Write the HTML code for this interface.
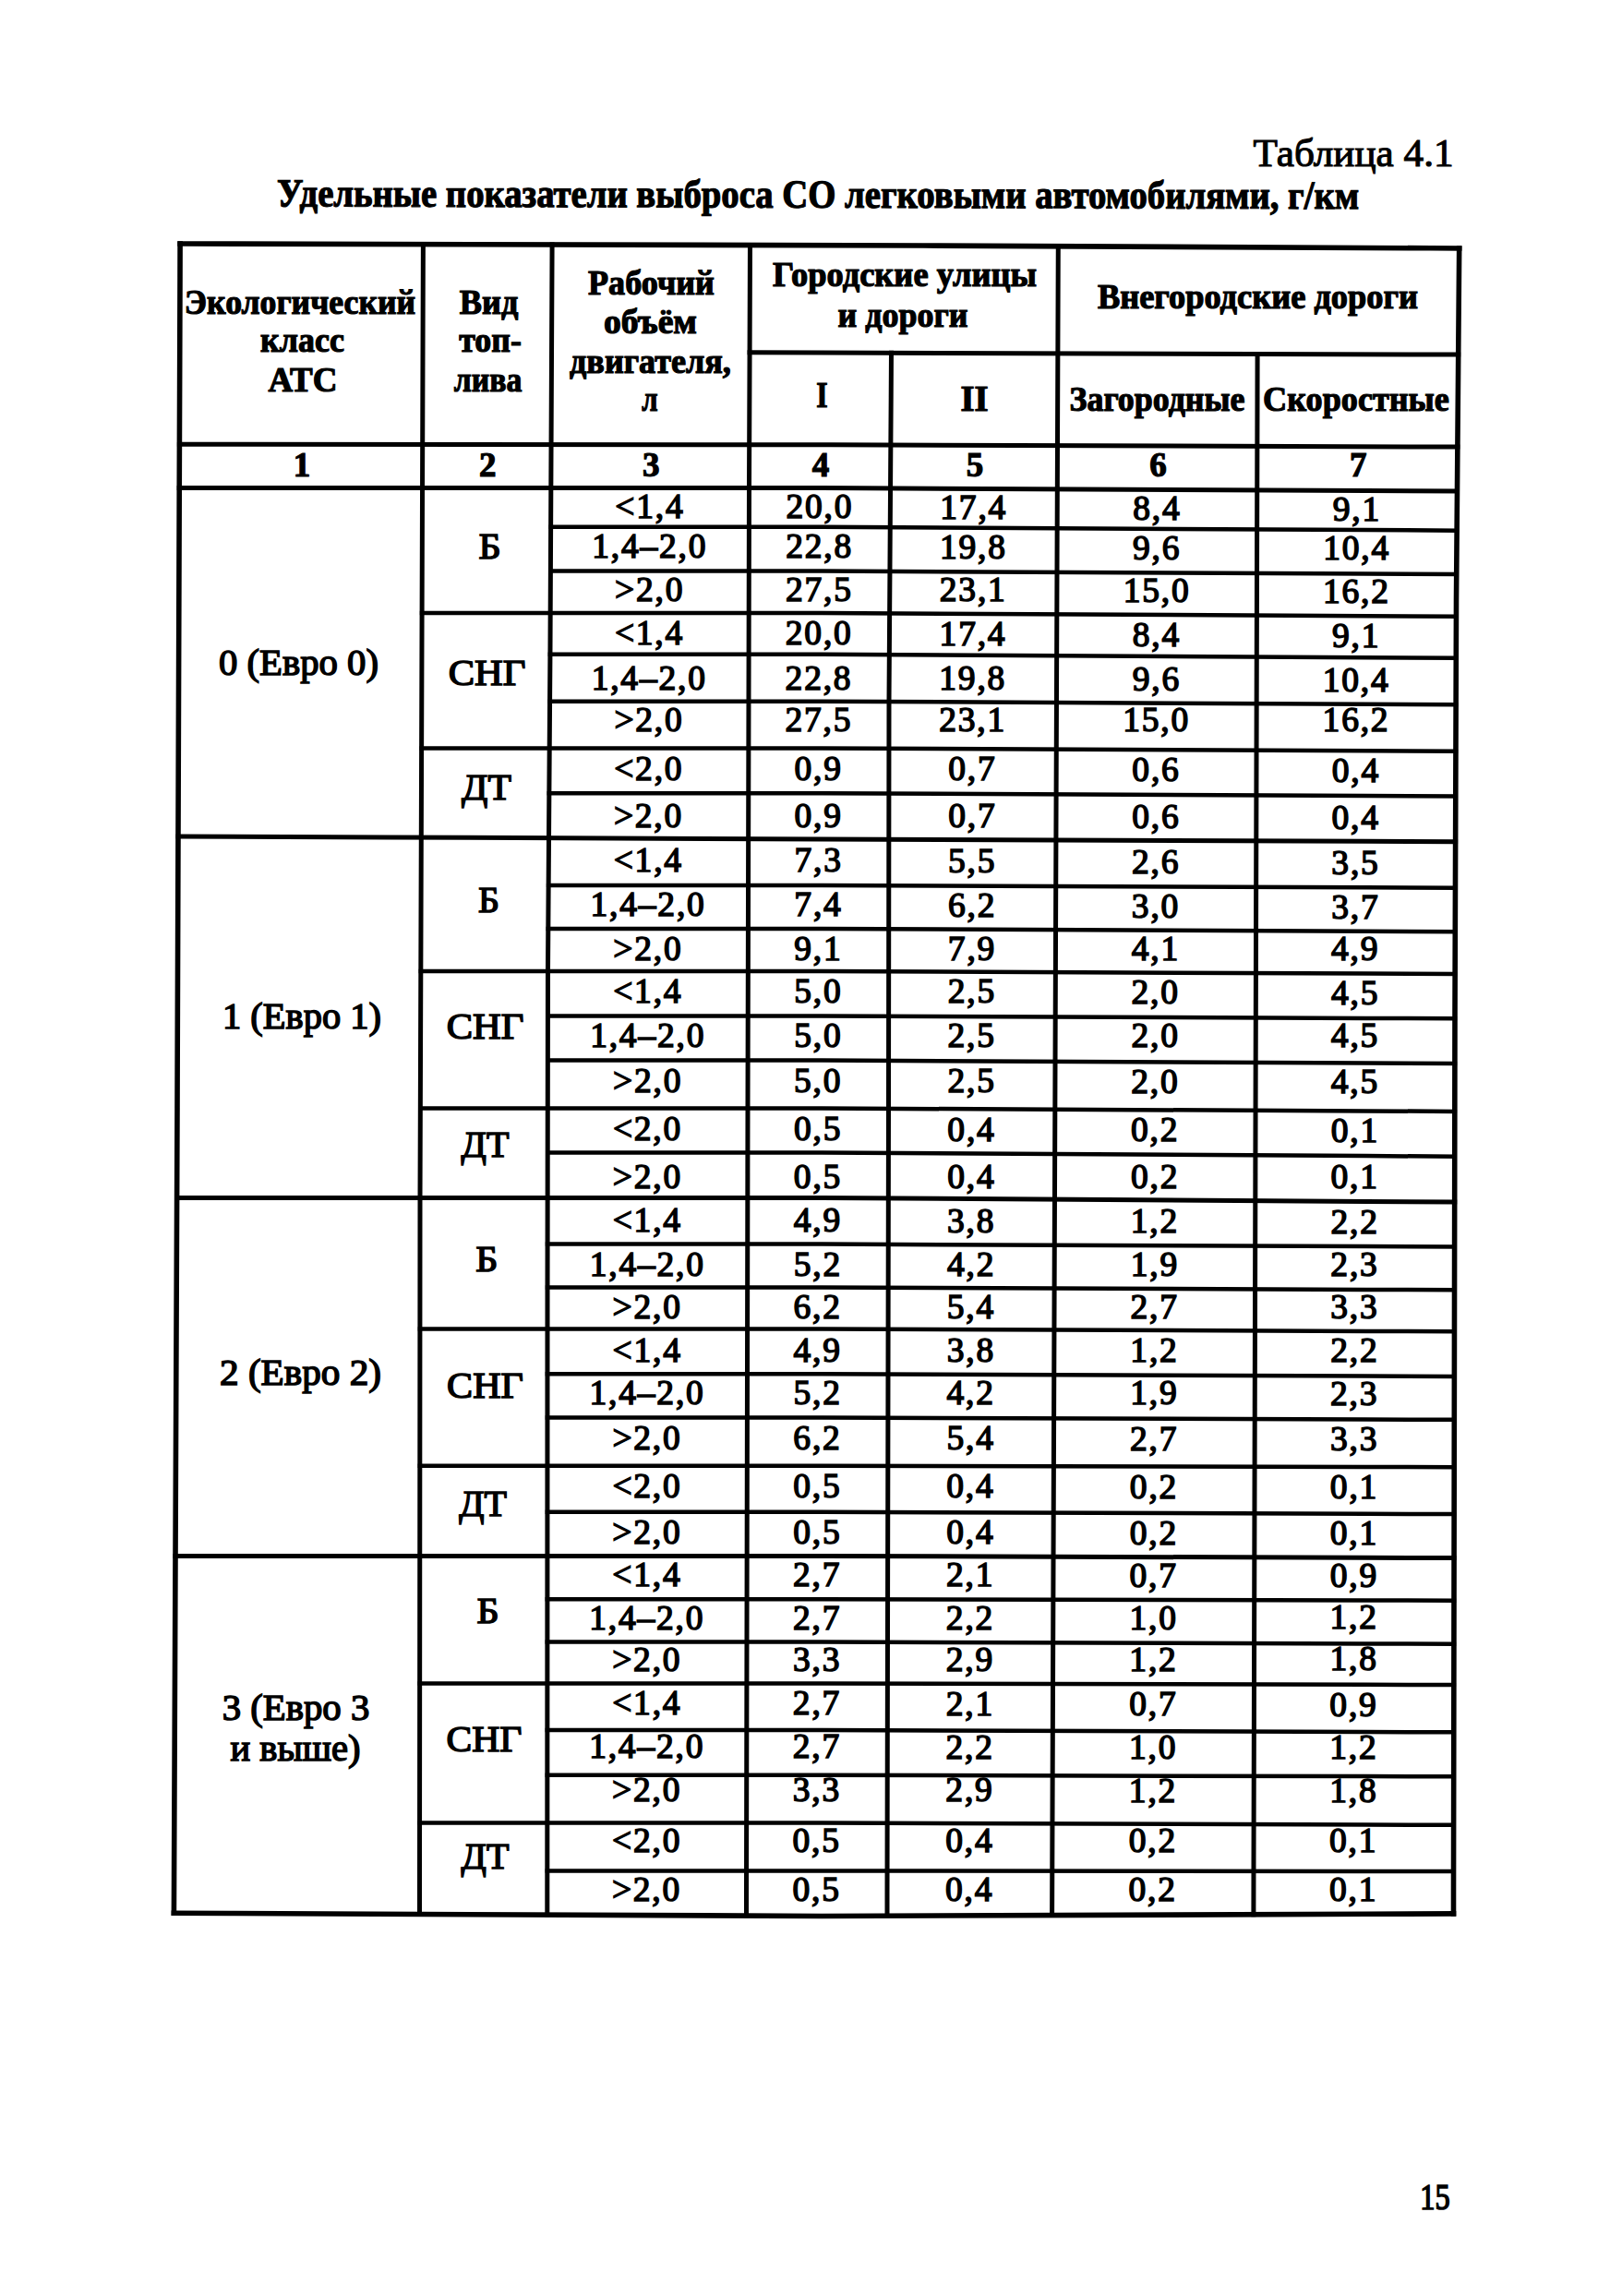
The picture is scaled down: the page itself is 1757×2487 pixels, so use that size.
<!DOCTYPE html>
<html><head><meta charset="utf-8"><title>Таблица 4.1</title>
<style>
html,body{margin:0;padding:0;background:#fff;}
body{width:1757px;height:2487px;overflow:hidden;position:relative;}
svg{position:absolute;left:0;top:0;}
text{font-family:"Liberation Serif",serif;fill:#000;stroke:#000;}
</style></head><body>
<svg width="1757" height="2487" viewBox="0 0 1757 2487">
<g class="ln" fill="none" stroke="#000" stroke-linejoin="miter">
<polyline points="192.3,264.0 200.0,264.0 1000.0,266.0 1550.0,268.8 1583.5,269.0" stroke-width="5.6"/>
<polyline points="185.6,2072.2 250.0,2072.5 890.0,2075.5 1480.0,2073.3 1577.3,2072.9" stroke-width="5.6"/>
<polyline points="191.9,481.3 200.0,481.3 900.0,481.8 1540.0,484.0 1581.4,484.1" stroke-width="5.0"/>
<polyline points="191.7,528.5 600.0,528.5 890.0,528.5 1480.0,531.6 1581.0,532.1" stroke-width="5.0"/>
<polyline points="809.6,381.8 890.0,382.0 1540.0,384.0 1582.2,384.1" stroke-width="5.0"/>
<polyline points="594.4,570.7 600.0,570.7 890.0,570.7 1480.0,574.1 1580.4,574.7" stroke-width="4.5"/>
<polyline points="594.1,618.5 600.0,618.5 890.0,618.5 1480.0,621.6 1580.0,622.1" stroke-width="4.5"/>
<polyline points="454.8,664.1 600.0,664.1 890.0,664.1 1480.0,667.2 1579.7,667.7" stroke-width="4.5"/>
<polyline points="593.7,708.8 600.0,708.8 890.0,708.8 1480.0,712.2 1579.5,712.8" stroke-width="4.5"/>
<polyline points="593.3,759.7 600.0,759.7 890.0,759.7 1480.0,762.8 1579.4,763.3" stroke-width="4.5"/>
<polyline points="454.4,810.5 600.0,810.5 890.0,810.5 1480.0,813.3 1579.2,813.8" stroke-width="4.5"/>
<polyline points="592.6,859.2 600.0,859.2 890.0,859.2 1480.0,862.0 1579.0,862.5" stroke-width="4.5"/>
<polyline points="190.5,906.1 420.0,907.0 890.0,908.9 1480.0,911.3 1579.1,911.7" stroke-width="5.0"/>
<polyline points="591.9,959.1 600.0,959.1 890.0,959.1 1480.0,961.3 1578.7,961.7" stroke-width="4.5"/>
<polyline points="591.6,1006.0 600.0,1006.0 890.0,1006.0 1480.0,1008.7 1578.6,1009.2" stroke-width="4.5"/>
<polyline points="453.6,1052.0 600.0,1052.0 890.0,1052.0 1480.0,1054.6 1578.4,1055.0" stroke-width="4.5"/>
<polyline points="591.2,1100.4 600.0,1100.4 890.0,1100.4 1480.0,1102.9 1578.2,1103.3" stroke-width="4.5"/>
<polyline points="591.1,1148.5 600.0,1148.5 890.0,1148.5 1480.0,1151.6 1578.2,1152.1" stroke-width="4.5"/>
<polyline points="453.1,1200.5 600.0,1200.5 890.0,1200.5 1480.0,1203.4 1578.1,1203.9" stroke-width="4.5"/>
<polyline points="591.0,1248.6 600.0,1248.6 890.0,1248.6 1480.0,1252.1 1578.0,1252.7" stroke-width="4.5"/>
<polyline points="189.1,1297.5 600.0,1297.5 890.0,1297.5 1480.0,1301.4 1578.2,1302.0" stroke-width="5.0"/>
<polyline points="590.8,1347.6 600.0,1347.6 890.0,1347.6 1480.0,1350.1 1577.9,1350.5" stroke-width="4.5"/>
<polyline points="590.8,1394.5 600.0,1394.5 890.0,1394.5 1480.0,1396.9 1577.8,1397.3" stroke-width="4.5"/>
<polyline points="452.7,1439.5 600.0,1439.5 890.0,1439.5 1480.0,1441.9 1577.7,1442.3" stroke-width="4.5"/>
<polyline points="590.7,1488.2 600.0,1488.2 890.0,1488.2 1480.0,1490.6 1577.6,1491.0" stroke-width="4.5"/>
<polyline points="590.7,1535.6 600.0,1535.6 890.0,1535.6 1480.0,1537.5 1577.6,1537.8" stroke-width="4.5"/>
<polyline points="452.6,1587.7 600.0,1587.7 890.0,1587.7 1480.0,1589.0 1577.5,1589.2" stroke-width="4.5"/>
<polyline points="590.7,1637.7 600.0,1637.7 890.0,1637.7 1480.0,1639.8 1577.4,1640.1" stroke-width="4.5"/>
<polyline points="187.5,1685.4 600.0,1685.4 890.0,1685.4 1480.0,1687.3 1577.6,1687.6" stroke-width="5.0"/>
<polyline points="590.6,1732.3 600.0,1732.3 890.0,1732.3 1480.0,1733.5 1577.2,1733.7" stroke-width="4.5"/>
<polyline points="590.6,1778.5 600.0,1778.5 890.0,1778.5 1480.0,1780.4 1577.2,1780.7" stroke-width="4.5"/>
<polyline points="452.4,1823.5 600.0,1823.5 890.0,1823.5 1480.0,1824.8 1577.1,1825.0" stroke-width="4.5"/>
<polyline points="590.6,1874.1 600.0,1874.1 890.0,1874.1 1480.0,1876.0 1577.0,1876.3" stroke-width="4.5"/>
<polyline points="590.6,1922.8 600.0,1922.8 890.0,1922.8 1480.0,1924.1 1576.9,1924.3" stroke-width="4.5"/>
<polyline points="452.3,1974.6 600.0,1974.6 890.0,1974.6 1480.0,1976.5 1576.9,1976.8" stroke-width="4.5"/>
<polyline points="590.6,2026.4 600.0,2026.4 890.0,2026.4 1480.0,2027.0 1576.8,2027.1" stroke-width="4.5"/>
<polyline points="195.1,261.2 195.0,300.0 192.0,1200.0 188.5,2050.0 188.4,2075.0" stroke-width="5.6"/>
<polyline points="1580.7,266.2 1579.6,400.0 1577.5,650.0 1576.0,1100.0 1574.5,2050.0 1574.5,2075.7" stroke-width="5.6"/>
<polyline points="458.4,262.1 457.8,450.0 455.0,1300.0 454.5,2050.0 454.5,2076.0" stroke-width="5.0"/>
<polyline points="598.1,262.5 597.2,450.0 596.0,700.0 593.5,1050.0 593.0,1400.0 592.8,2050.0 592.8,2076.6" stroke-width="5.0"/>
<polyline points="812.5,263.0 812.0,400.0 811.5,530.0 810.0,1200.0 808.5,2050.0 808.5,2077.6" stroke-width="5.0"/>
<polyline points="1146.3,264.2 1145.8,400.0 1139.8,2020.0 1139.6,2077.1" stroke-width="5.0"/>
<polyline points="965.5,379.7 965.2,430.0 963.0,760.0 962.5,1200.0 961.0,2050.0 961.0,2077.7" stroke-width="5.0"/>
<polyline points="1362.1,381.0 1362.0,430.0 1358.0,2020.0 1357.9,2076.3" stroke-width="5.0"/>
</g>
<g class="tx">
<text id="tab" x="1466.0" y="180.0" font-size="42" stroke-width="1.1" text-anchor="middle" textLength="217.2" lengthAdjust="spacingAndGlyphs">Таблица 4.1</text>
<text id="ttl" x="886.0" y="224.8" font-size="43" font-weight="bold" stroke-width="1.2" transform="rotate(0.130 886.0 224.8)" text-anchor="middle" textLength="1172.2" lengthAdjust="spacingAndGlyphs">Удельные показатели выброса СО легковыми автомобилями, г/км</text>
<text id="pg" x="1554.5" y="2393.0" font-size="39" stroke-width="1.6" text-anchor="middle" textLength="32.4" lengthAdjust="spacingAndGlyphs">15</text>
<text id="h1a" x="325.0" y="340.0" font-size="38" font-weight="bold" stroke-width="1.2" text-anchor="middle" textLength="250.3" lengthAdjust="spacingAndGlyphs">Экологический</text>
<text id="h1b" x="327.5" y="381.3" font-size="38" font-weight="bold" stroke-width="1.2" text-anchor="middle" textLength="90.9" lengthAdjust="spacingAndGlyphs">класс</text>
<text id="h1c" x="328.0" y="424.0" font-size="38" font-weight="bold" stroke-width="1.2" text-anchor="middle" textLength="74.8" lengthAdjust="spacingAndGlyphs">АТС</text>
<text id="h2a" x="529.5" y="340.0" font-size="38" font-weight="bold" stroke-width="1.2" text-anchor="middle" textLength="63.5" lengthAdjust="spacingAndGlyphs">Вид</text>
<text id="h2b" x="531.0" y="381.3" font-size="38" font-weight="bold" stroke-width="1.2" text-anchor="middle" textLength="67.7" lengthAdjust="spacingAndGlyphs">топ-</text>
<text id="h2c" x="528.5" y="424.0" font-size="38" font-weight="bold" stroke-width="1.2" text-anchor="middle" textLength="73.7" lengthAdjust="spacingAndGlyphs">лива</text>
<text id="h3a" x="705.5" y="318.8" font-size="38" font-weight="bold" stroke-width="1.2" text-anchor="middle" textLength="136.9" lengthAdjust="spacingAndGlyphs">Рабочий</text>
<text id="h3b" x="704.5" y="361.0" font-size="38" font-weight="bold" stroke-width="1.2" text-anchor="middle" textLength="101.0" lengthAdjust="spacingAndGlyphs">объём</text>
<text id="h3c" x="704.5" y="403.9" font-size="38" font-weight="bold" stroke-width="1.2" text-anchor="middle" textLength="174.8" lengthAdjust="spacingAndGlyphs">двигателя,</text>
<text id="h3d" x="704.0" y="445.3" font-size="38" font-weight="bold" stroke-width="1.2" text-anchor="middle" textLength="17.3" lengthAdjust="spacingAndGlyphs">л</text>
<text id="h4a" x="980.0" y="310.4" font-size="38" font-weight="bold" stroke-width="1.2" text-anchor="middle" textLength="285.9" lengthAdjust="spacingAndGlyphs">Городские улицы</text>
<text id="h4b" x="978.0" y="353.6" font-size="38" font-weight="bold" stroke-width="1.2" text-anchor="middle" textLength="140.9" lengthAdjust="spacingAndGlyphs">и дороги</text>
<text id="h5" x="1362.5" y="334.4" font-size="38" font-weight="bold" stroke-width="1.2" text-anchor="middle" textLength="347.2" lengthAdjust="spacingAndGlyphs">Внегородские дороги</text>
<text id="hI" x="890.5" y="441.0" font-size="40" font-weight="bold" stroke-width="1.2" text-anchor="middle" textLength="12.4" lengthAdjust="spacingAndGlyphs">I</text>
<text id="hII" x="1055.5" y="444.8" font-size="40" font-weight="bold" stroke-width="1.2" text-anchor="middle" textLength="30.1" lengthAdjust="spacingAndGlyphs">II</text>
<text id="h6" x="1253.5" y="445.4" font-size="38" font-weight="bold" stroke-width="1.2" text-anchor="middle" textLength="190.0" lengthAdjust="spacingAndGlyphs">Загородные</text>
<text id="h7" x="1469.0" y="445.4" font-size="38" font-weight="bold" stroke-width="1.2" text-anchor="middle" textLength="201.8" lengthAdjust="spacingAndGlyphs">Скоростные</text>
<text id="n0" x="327.0" y="515.5" font-size="37" font-weight="bold" stroke-width="1.2" text-anchor="middle">1</text>
<text id="n1" x="528.3" y="515.5" font-size="37" font-weight="bold" stroke-width="1.2" text-anchor="middle">2</text>
<text id="n2" x="705.3" y="515.5" font-size="37" font-weight="bold" stroke-width="1.2" text-anchor="middle">3</text>
<text id="n3" x="889.1" y="515.5" font-size="37" font-weight="bold" stroke-width="1.2" text-anchor="middle">4</text>
<text id="n4" x="1056.1" y="515.5" font-size="37" font-weight="bold" stroke-width="1.2" text-anchor="middle">5</text>
<text id="n5" x="1254.6" y="515.5" font-size="37" font-weight="bold" stroke-width="1.2" text-anchor="middle">6</text>
<text id="n6" x="1471.3" y="515.5" font-size="37" font-weight="bold" stroke-width="1.2" text-anchor="middle">7</text>
<text id="d0_0" x="703.9" y="561.2" font-size="37.5" stroke-width="1.5" letter-spacing="1.8" text-anchor="middle">&lt;1,4</text>
<text id="d0_1" x="887.8" y="561.2" font-size="37.5" stroke-width="1.5" letter-spacing="1.8" text-anchor="middle">20,0</text>
<text id="d0_2" x="1054.7" y="562.1" font-size="37.5" stroke-width="1.5" letter-spacing="1.8" text-anchor="middle">17,4</text>
<text id="d0_3" x="1253.3" y="563.1" font-size="37.5" stroke-width="1.5" letter-spacing="1.8" text-anchor="middle">8,4</text>
<text id="d0_4" x="1469.8" y="564.2" font-size="37.5" stroke-width="1.5" letter-spacing="1.8" text-anchor="middle">9,1</text>
<text id="d1_0" x="703.8" y="604.3" font-size="37.5" stroke-width="1.5" letter-spacing="1.8" text-anchor="middle">1,4–2,0</text>
<text id="d1_1" x="887.6" y="604.3" font-size="37.5" stroke-width="1.5" letter-spacing="1.8" text-anchor="middle">22,8</text>
<text id="d1_2" x="1054.4" y="604.8" font-size="37.5" stroke-width="1.5" letter-spacing="1.8" text-anchor="middle">19,8</text>
<text id="d1_3" x="1253.2" y="605.5" font-size="37.5" stroke-width="1.5" letter-spacing="1.8" text-anchor="middle">9,6</text>
<text id="d1_4" x="1469.6" y="606.2" font-size="37.5" stroke-width="1.5" letter-spacing="1.8" text-anchor="middle">10,4</text>
<text id="d2_0" x="703.6" y="650.6" font-size="37.5" stroke-width="1.5" letter-spacing="1.8" text-anchor="middle">&gt;2,0</text>
<text id="d2_1" x="887.4" y="650.6" font-size="37.5" stroke-width="1.5" letter-spacing="1.8" text-anchor="middle">27,5</text>
<text id="d2_2" x="1054.2" y="651.3" font-size="37.5" stroke-width="1.5" letter-spacing="1.8" text-anchor="middle">23,1</text>
<text id="d2_3" x="1253.1" y="652.1" font-size="37.5" stroke-width="1.5" letter-spacing="1.8" text-anchor="middle">15,0</text>
<text id="d2_4" x="1469.4" y="653.0" font-size="37.5" stroke-width="1.5" letter-spacing="1.8" text-anchor="middle">16,2</text>
<text id="d3_0" x="703.5" y="698.0" font-size="37.5" stroke-width="1.5" letter-spacing="1.8" text-anchor="middle">&lt;1,4</text>
<text id="d3_1" x="887.2" y="698.0" font-size="37.5" stroke-width="1.5" letter-spacing="1.8" text-anchor="middle">20,0</text>
<text id="d3_2" x="1054.0" y="698.7" font-size="37.5" stroke-width="1.5" letter-spacing="1.8" text-anchor="middle">17,4</text>
<text id="d3_3" x="1252.9" y="699.5" font-size="37.5" stroke-width="1.5" letter-spacing="1.8" text-anchor="middle">8,4</text>
<text id="d3_4" x="1469.2" y="700.5" font-size="37.5" stroke-width="1.5" letter-spacing="1.8" text-anchor="middle">9,1</text>
<text id="d4_0" x="703.2" y="746.7" font-size="37.5" stroke-width="1.5" letter-spacing="1.8" text-anchor="middle">1,4–2,0</text>
<text id="d4_1" x="887.0" y="746.7" font-size="37.5" stroke-width="1.5" letter-spacing="1.8" text-anchor="middle">22,8</text>
<text id="d4_2" x="1053.7" y="747.4" font-size="37.5" stroke-width="1.5" letter-spacing="1.8" text-anchor="middle">19,8</text>
<text id="d4_3" x="1252.8" y="748.2" font-size="37.5" stroke-width="1.5" letter-spacing="1.8" text-anchor="middle">9,6</text>
<text id="d4_4" x="1469.1" y="749.2" font-size="37.5" stroke-width="1.5" letter-spacing="1.8" text-anchor="middle">10,4</text>
<text id="d5_0" x="703.0" y="791.8" font-size="37.5" stroke-width="1.5" letter-spacing="1.8" text-anchor="middle">&gt;2,0</text>
<text id="d5_1" x="886.8" y="791.8" font-size="37.5" stroke-width="1.5" letter-spacing="1.8" text-anchor="middle">27,5</text>
<text id="d5_2" x="1053.6" y="791.9" font-size="37.5" stroke-width="1.5" letter-spacing="1.8" text-anchor="middle">23,1</text>
<text id="d5_3" x="1252.6" y="792.1" font-size="37.5" stroke-width="1.5" letter-spacing="1.8" text-anchor="middle">15,0</text>
<text id="d5_4" x="1469.0" y="792.3" font-size="37.5" stroke-width="1.5" letter-spacing="1.8" text-anchor="middle">16,2</text>
<text id="d6_0" x="702.8" y="844.7" font-size="37.5" stroke-width="1.5" letter-spacing="1.8" text-anchor="middle">&lt;2,0</text>
<text id="d6_1" x="886.7" y="844.7" font-size="37.5" stroke-width="1.5" letter-spacing="1.8" text-anchor="middle">0,9</text>
<text id="d6_2" x="1053.4" y="845.2" font-size="37.5" stroke-width="1.5" letter-spacing="1.8" text-anchor="middle">0,7</text>
<text id="d6_3" x="1252.5" y="845.9" font-size="37.5" stroke-width="1.5" letter-spacing="1.8" text-anchor="middle">0,6</text>
<text id="d6_4" x="1468.8" y="846.6" font-size="37.5" stroke-width="1.5" letter-spacing="1.8" text-anchor="middle">0,4</text>
<text id="d7_0" x="702.5" y="895.9" font-size="37.5" stroke-width="1.5" letter-spacing="1.8" text-anchor="middle">&gt;2,0</text>
<text id="d7_1" x="886.7" y="895.9" font-size="37.5" stroke-width="1.5" letter-spacing="1.8" text-anchor="middle">0,9</text>
<text id="d7_2" x="1053.3" y="896.4" font-size="37.5" stroke-width="1.5" letter-spacing="1.8" text-anchor="middle">0,7</text>
<text id="d7_3" x="1252.3" y="897.1" font-size="37.5" stroke-width="1.5" letter-spacing="1.8" text-anchor="middle">0,6</text>
<text id="d7_4" x="1468.6" y="897.8" font-size="37.5" stroke-width="1.5" letter-spacing="1.8" text-anchor="middle">0,4</text>
<text id="d8_0" x="702.3" y="944.0" font-size="37.5" stroke-width="1.5" letter-spacing="1.8" text-anchor="middle">&lt;1,4</text>
<text id="d8_1" x="886.6" y="944.0" font-size="37.5" stroke-width="1.5" letter-spacing="1.8" text-anchor="middle">7,3</text>
<text id="d8_2" x="1053.2" y="944.7" font-size="37.5" stroke-width="1.5" letter-spacing="1.8" text-anchor="middle">5,5</text>
<text id="d8_3" x="1252.1" y="945.5" font-size="37.5" stroke-width="1.5" letter-spacing="1.8" text-anchor="middle">2,6</text>
<text id="d8_4" x="1468.5" y="946.5" font-size="37.5" stroke-width="1.5" letter-spacing="1.8" text-anchor="middle">3,5</text>
<text id="d9_0" x="702.1" y="992.1" font-size="37.5" stroke-width="1.5" letter-spacing="1.8" text-anchor="middle">1,4–2,0</text>
<text id="d9_1" x="886.5" y="992.1" font-size="37.5" stroke-width="1.5" letter-spacing="1.8" text-anchor="middle">7,4</text>
<text id="d9_2" x="1053.1" y="992.8" font-size="37.5" stroke-width="1.5" letter-spacing="1.8" text-anchor="middle">6,2</text>
<text id="d9_3" x="1252.0" y="993.6" font-size="37.5" stroke-width="1.5" letter-spacing="1.8" text-anchor="middle">3,0</text>
<text id="d9_4" x="1468.4" y="994.5" font-size="37.5" stroke-width="1.5" letter-spacing="1.8" text-anchor="middle">3,7</text>
<text id="d10_0" x="701.9" y="1039.6" font-size="37.5" stroke-width="1.5" letter-spacing="1.8" text-anchor="middle">&gt;2,0</text>
<text id="d10_1" x="886.4" y="1039.6" font-size="37.5" stroke-width="1.5" letter-spacing="1.8" text-anchor="middle">9,1</text>
<text id="d10_2" x="1053.0" y="1039.8" font-size="37.5" stroke-width="1.5" letter-spacing="1.8" text-anchor="middle">7,9</text>
<text id="d10_3" x="1251.8" y="1040.0" font-size="37.5" stroke-width="1.5" letter-spacing="1.8" text-anchor="middle">4,1</text>
<text id="d10_4" x="1468.2" y="1040.2" font-size="37.5" stroke-width="1.5" letter-spacing="1.8" text-anchor="middle">4,9</text>
<text id="d11_0" x="701.8" y="1085.6" font-size="37.5" stroke-width="1.5" letter-spacing="1.8" text-anchor="middle">&lt;1,4</text>
<text id="d11_1" x="886.3" y="1085.6" font-size="37.5" stroke-width="1.5" letter-spacing="1.8" text-anchor="middle">5,0</text>
<text id="d11_2" x="1052.8" y="1086.3" font-size="37.5" stroke-width="1.5" letter-spacing="1.8" text-anchor="middle">2,5</text>
<text id="d11_3" x="1251.7" y="1087.1" font-size="37.5" stroke-width="1.5" letter-spacing="1.8" text-anchor="middle">2,0</text>
<text id="d11_4" x="1468.1" y="1088.0" font-size="37.5" stroke-width="1.5" letter-spacing="1.8" text-anchor="middle">4,5</text>
<text id="d12_0" x="701.7" y="1134.3" font-size="37.5" stroke-width="1.5" letter-spacing="1.8" text-anchor="middle">1,4–2,0</text>
<text id="d12_1" x="886.3" y="1134.3" font-size="37.5" stroke-width="1.5" letter-spacing="1.8" text-anchor="middle">5,0</text>
<text id="d12_2" x="1052.7" y="1134.3" font-size="37.5" stroke-width="1.5" letter-spacing="1.8" text-anchor="middle">2,5</text>
<text id="d12_3" x="1251.6" y="1134.3" font-size="37.5" stroke-width="1.5" letter-spacing="1.8" text-anchor="middle">2,0</text>
<text id="d12_4" x="1468.0" y="1134.3" font-size="37.5" stroke-width="1.5" letter-spacing="1.8" text-anchor="middle">4,5</text>
<text id="d13_0" x="701.6" y="1183.0" font-size="37.5" stroke-width="1.5" letter-spacing="1.8" text-anchor="middle">&gt;2,0</text>
<text id="d13_1" x="886.2" y="1183.0" font-size="37.5" stroke-width="1.5" letter-spacing="1.8" text-anchor="middle">5,0</text>
<text id="d13_2" x="1052.6" y="1183.4" font-size="37.5" stroke-width="1.5" letter-spacing="1.8" text-anchor="middle">2,5</text>
<text id="d13_3" x="1251.4" y="1183.8" font-size="37.5" stroke-width="1.5" letter-spacing="1.8" text-anchor="middle">2,0</text>
<text id="d13_4" x="1467.9" y="1184.3" font-size="37.5" stroke-width="1.5" letter-spacing="1.8" text-anchor="middle">4,5</text>
<text id="d14_0" x="701.5" y="1235.4" font-size="37.5" stroke-width="1.5" letter-spacing="1.8" text-anchor="middle">&lt;2,0</text>
<text id="d14_1" x="886.1" y="1235.4" font-size="37.5" stroke-width="1.5" letter-spacing="1.8" text-anchor="middle">0,5</text>
<text id="d14_2" x="1052.5" y="1235.8" font-size="37.5" stroke-width="1.5" letter-spacing="1.8" text-anchor="middle">0,4</text>
<text id="d14_3" x="1251.2" y="1236.2" font-size="37.5" stroke-width="1.5" letter-spacing="1.8" text-anchor="middle">0,2</text>
<text id="d14_4" x="1467.8" y="1236.7" font-size="37.5" stroke-width="1.5" letter-spacing="1.8" text-anchor="middle">0,1</text>
<text id="d15_0" x="701.4" y="1286.6" font-size="37.5" stroke-width="1.5" letter-spacing="1.8" text-anchor="middle">&gt;2,0</text>
<text id="d15_1" x="886.0" y="1286.6" font-size="37.5" stroke-width="1.5" letter-spacing="1.8" text-anchor="middle">0,5</text>
<text id="d15_2" x="1052.3" y="1286.6" font-size="37.5" stroke-width="1.5" letter-spacing="1.8" text-anchor="middle">0,4</text>
<text id="d15_3" x="1251.1" y="1286.6" font-size="37.5" stroke-width="1.5" letter-spacing="1.8" text-anchor="middle">0,2</text>
<text id="d15_4" x="1467.7" y="1286.6" font-size="37.5" stroke-width="1.5" letter-spacing="1.8" text-anchor="middle">0,1</text>
<text id="d16_0" x="701.3" y="1334.0" font-size="37.5" stroke-width="1.5" letter-spacing="1.8" text-anchor="middle">&lt;1,4</text>
<text id="d16_1" x="885.9" y="1334.0" font-size="37.5" stroke-width="1.5" letter-spacing="1.8" text-anchor="middle">4,9</text>
<text id="d16_2" x="1052.2" y="1334.5" font-size="37.5" stroke-width="1.5" letter-spacing="1.8" text-anchor="middle">3,8</text>
<text id="d16_3" x="1250.9" y="1335.2" font-size="37.5" stroke-width="1.5" letter-spacing="1.8" text-anchor="middle">1,2</text>
<text id="d16_4" x="1467.6" y="1335.9" font-size="37.5" stroke-width="1.5" letter-spacing="1.8" text-anchor="middle">2,2</text>
<text id="d17_0" x="701.3" y="1382.1" font-size="37.5" stroke-width="1.5" letter-spacing="1.8" text-anchor="middle">1,4–2,0</text>
<text id="d17_1" x="885.8" y="1382.1" font-size="37.5" stroke-width="1.5" letter-spacing="1.8" text-anchor="middle">5,2</text>
<text id="d17_2" x="1052.1" y="1382.1" font-size="37.5" stroke-width="1.5" letter-spacing="1.8" text-anchor="middle">4,2</text>
<text id="d17_3" x="1250.8" y="1382.1" font-size="37.5" stroke-width="1.5" letter-spacing="1.8" text-anchor="middle">1,9</text>
<text id="d17_4" x="1467.5" y="1382.1" font-size="37.5" stroke-width="1.5" letter-spacing="1.8" text-anchor="middle">2,3</text>
<text id="d18_0" x="701.2" y="1428.4" font-size="37.5" stroke-width="1.5" letter-spacing="1.8" text-anchor="middle">&gt;2,0</text>
<text id="d18_1" x="885.7" y="1428.4" font-size="37.5" stroke-width="1.5" letter-spacing="1.8" text-anchor="middle">6,2</text>
<text id="d18_2" x="1051.9" y="1428.4" font-size="37.5" stroke-width="1.5" letter-spacing="1.8" text-anchor="middle">5,4</text>
<text id="d18_3" x="1250.6" y="1428.4" font-size="37.5" stroke-width="1.5" letter-spacing="1.8" text-anchor="middle">2,7</text>
<text id="d18_4" x="1467.4" y="1428.4" font-size="37.5" stroke-width="1.5" letter-spacing="1.8" text-anchor="middle">3,3</text>
<text id="d19_0" x="701.1" y="1474.6" font-size="37.5" stroke-width="1.5" letter-spacing="1.8" text-anchor="middle">&lt;1,4</text>
<text id="d19_1" x="885.7" y="1474.6" font-size="37.5" stroke-width="1.5" letter-spacing="1.8" text-anchor="middle">4,9</text>
<text id="d19_2" x="1051.8" y="1474.6" font-size="37.5" stroke-width="1.5" letter-spacing="1.8" text-anchor="middle">3,8</text>
<text id="d19_3" x="1250.5" y="1474.6" font-size="37.5" stroke-width="1.5" letter-spacing="1.8" text-anchor="middle">1,2</text>
<text id="d19_4" x="1467.3" y="1474.6" font-size="37.5" stroke-width="1.5" letter-spacing="1.8" text-anchor="middle">2,2</text>
<text id="d20_0" x="701.1" y="1520.9" font-size="37.5" stroke-width="1.5" letter-spacing="1.8" text-anchor="middle">1,4–2,0</text>
<text id="d20_1" x="885.6" y="1520.9" font-size="37.5" stroke-width="1.5" letter-spacing="1.8" text-anchor="middle">5,2</text>
<text id="d20_2" x="1051.7" y="1521.1" font-size="37.5" stroke-width="1.5" letter-spacing="1.8" text-anchor="middle">4,2</text>
<text id="d20_3" x="1250.4" y="1521.3" font-size="37.5" stroke-width="1.5" letter-spacing="1.8" text-anchor="middle">1,9</text>
<text id="d20_4" x="1467.2" y="1521.5" font-size="37.5" stroke-width="1.5" letter-spacing="1.8" text-anchor="middle">2,3</text>
<text id="d21_0" x="701.0" y="1570.2" font-size="37.5" stroke-width="1.5" letter-spacing="1.8" text-anchor="middle">&gt;2,0</text>
<text id="d21_1" x="885.5" y="1570.2" font-size="37.5" stroke-width="1.5" letter-spacing="1.8" text-anchor="middle">6,2</text>
<text id="d21_2" x="1051.6" y="1570.4" font-size="37.5" stroke-width="1.5" letter-spacing="1.8" text-anchor="middle">5,4</text>
<text id="d21_3" x="1250.2" y="1570.6" font-size="37.5" stroke-width="1.5" letter-spacing="1.8" text-anchor="middle">2,7</text>
<text id="d21_4" x="1467.1" y="1570.8" font-size="37.5" stroke-width="1.5" letter-spacing="1.8" text-anchor="middle">3,3</text>
<text id="d22_0" x="701.0" y="1621.9" font-size="37.5" stroke-width="1.5" letter-spacing="1.8" text-anchor="middle">&lt;2,0</text>
<text id="d22_1" x="885.4" y="1621.9" font-size="37.5" stroke-width="1.5" letter-spacing="1.8" text-anchor="middle">0,5</text>
<text id="d22_2" x="1051.4" y="1622.3" font-size="37.5" stroke-width="1.5" letter-spacing="1.8" text-anchor="middle">0,4</text>
<text id="d22_3" x="1250.0" y="1622.7" font-size="37.5" stroke-width="1.5" letter-spacing="1.8" text-anchor="middle">0,2</text>
<text id="d22_4" x="1467.0" y="1623.2" font-size="37.5" stroke-width="1.5" letter-spacing="1.8" text-anchor="middle">0,1</text>
<text id="d23_0" x="700.9" y="1671.9" font-size="37.5" stroke-width="1.5" letter-spacing="1.8" text-anchor="middle">&gt;2,0</text>
<text id="d23_1" x="885.3" y="1671.9" font-size="37.5" stroke-width="1.5" letter-spacing="1.8" text-anchor="middle">0,5</text>
<text id="d23_2" x="1051.3" y="1672.2" font-size="37.5" stroke-width="1.5" letter-spacing="1.8" text-anchor="middle">0,4</text>
<text id="d23_3" x="1249.9" y="1672.6" font-size="37.5" stroke-width="1.5" letter-spacing="1.8" text-anchor="middle">0,2</text>
<text id="d23_4" x="1466.9" y="1673.1" font-size="37.5" stroke-width="1.5" letter-spacing="1.8" text-anchor="middle">0,1</text>
<text id="d24_0" x="700.9" y="1717.5" font-size="37.5" stroke-width="1.5" letter-spacing="1.8" text-anchor="middle">&lt;1,4</text>
<text id="d24_1" x="885.2" y="1717.5" font-size="37.5" stroke-width="1.5" letter-spacing="1.8" text-anchor="middle">2,7</text>
<text id="d24_2" x="1051.2" y="1718.0" font-size="37.5" stroke-width="1.5" letter-spacing="1.8" text-anchor="middle">2,1</text>
<text id="d24_3" x="1249.7" y="1718.6" font-size="37.5" stroke-width="1.5" letter-spacing="1.8" text-anchor="middle">0,7</text>
<text id="d24_4" x="1466.8" y="1719.3" font-size="37.5" stroke-width="1.5" letter-spacing="1.8" text-anchor="middle">0,9</text>
<text id="d25_0" x="700.8" y="1765.0" font-size="37.5" stroke-width="1.5" letter-spacing="1.8" text-anchor="middle">1,4–2,0</text>
<text id="d25_1" x="885.2" y="1765.0" font-size="37.5" stroke-width="1.5" letter-spacing="1.8" text-anchor="middle">2,7</text>
<text id="d25_2" x="1051.0" y="1764.8" font-size="37.5" stroke-width="1.5" letter-spacing="1.8" text-anchor="middle">2,2</text>
<text id="d25_3" x="1249.6" y="1764.6" font-size="37.5" stroke-width="1.5" letter-spacing="1.8" text-anchor="middle">1,0</text>
<text id="d25_4" x="1466.7" y="1764.3" font-size="37.5" stroke-width="1.5" letter-spacing="1.8" text-anchor="middle">1,2</text>
<text id="d26_0" x="700.8" y="1810.0" font-size="37.5" stroke-width="1.5" letter-spacing="1.8" text-anchor="middle">&gt;2,0</text>
<text id="d26_1" x="885.1" y="1810.0" font-size="37.5" stroke-width="1.5" letter-spacing="1.8" text-anchor="middle">3,3</text>
<text id="d26_2" x="1050.9" y="1809.8" font-size="37.5" stroke-width="1.5" letter-spacing="1.8" text-anchor="middle">2,9</text>
<text id="d26_3" x="1249.5" y="1809.6" font-size="37.5" stroke-width="1.5" letter-spacing="1.8" text-anchor="middle">1,2</text>
<text id="d26_4" x="1466.6" y="1809.3" font-size="37.5" stroke-width="1.5" letter-spacing="1.8" text-anchor="middle">1,8</text>
<text id="d27_0" x="700.8" y="1856.9" font-size="37.5" stroke-width="1.5" letter-spacing="1.8" text-anchor="middle">&lt;1,4</text>
<text id="d27_1" x="885.0" y="1856.9" font-size="37.5" stroke-width="1.5" letter-spacing="1.8" text-anchor="middle">2,7</text>
<text id="d27_2" x="1050.8" y="1857.6" font-size="37.5" stroke-width="1.5" letter-spacing="1.8" text-anchor="middle">2,1</text>
<text id="d27_3" x="1249.3" y="1858.4" font-size="37.5" stroke-width="1.5" letter-spacing="1.8" text-anchor="middle">0,7</text>
<text id="d27_4" x="1466.5" y="1859.2" font-size="37.5" stroke-width="1.5" letter-spacing="1.8" text-anchor="middle">0,9</text>
<text id="d28_0" x="700.7" y="1904.3" font-size="37.5" stroke-width="1.5" letter-spacing="1.8" text-anchor="middle">1,4–2,0</text>
<text id="d28_1" x="884.9" y="1904.3" font-size="37.5" stroke-width="1.5" letter-spacing="1.8" text-anchor="middle">2,7</text>
<text id="d28_2" x="1050.6" y="1904.5" font-size="37.5" stroke-width="1.5" letter-spacing="1.8" text-anchor="middle">2,2</text>
<text id="d28_3" x="1249.2" y="1904.7" font-size="37.5" stroke-width="1.5" letter-spacing="1.8" text-anchor="middle">1,0</text>
<text id="d28_4" x="1466.4" y="1905.0" font-size="37.5" stroke-width="1.5" letter-spacing="1.8" text-anchor="middle">1,2</text>
<text id="d29_0" x="700.7" y="1951.2" font-size="37.5" stroke-width="1.5" letter-spacing="1.8" text-anchor="middle">&gt;2,0</text>
<text id="d29_1" x="884.8" y="1951.2" font-size="37.5" stroke-width="1.5" letter-spacing="1.8" text-anchor="middle">3,3</text>
<text id="d29_2" x="1050.5" y="1951.4" font-size="37.5" stroke-width="1.5" letter-spacing="1.8" text-anchor="middle">2,9</text>
<text id="d29_3" x="1249.0" y="1951.6" font-size="37.5" stroke-width="1.5" letter-spacing="1.8" text-anchor="middle">1,2</text>
<text id="d29_4" x="1466.3" y="1951.8" font-size="37.5" stroke-width="1.5" letter-spacing="1.8" text-anchor="middle">1,8</text>
<text id="d30_0" x="700.6" y="2006.0" font-size="37.5" stroke-width="1.5" letter-spacing="1.8" text-anchor="middle">&lt;2,0</text>
<text id="d30_1" x="884.7" y="2006.0" font-size="37.5" stroke-width="1.5" letter-spacing="1.8" text-anchor="middle">0,5</text>
<text id="d30_2" x="1050.4" y="2006.0" font-size="37.5" stroke-width="1.5" letter-spacing="1.8" text-anchor="middle">0,4</text>
<text id="d30_3" x="1248.8" y="2006.0" font-size="37.5" stroke-width="1.5" letter-spacing="1.8" text-anchor="middle">0,2</text>
<text id="d30_4" x="1466.2" y="2006.0" font-size="37.5" stroke-width="1.5" letter-spacing="1.8" text-anchor="middle">0,1</text>
<text id="d31_0" x="700.5" y="2059.1" font-size="37.5" stroke-width="1.5" letter-spacing="1.8" text-anchor="middle">&gt;2,0</text>
<text id="d31_1" x="884.6" y="2059.1" font-size="37.5" stroke-width="1.5" letter-spacing="1.8" text-anchor="middle">0,5</text>
<text id="d31_2" x="1050.2" y="2059.1" font-size="37.5" stroke-width="1.5" letter-spacing="1.8" text-anchor="middle">0,4</text>
<text id="d31_3" x="1248.7" y="2059.1" font-size="37.5" stroke-width="1.5" letter-spacing="1.8" text-anchor="middle">0,2</text>
<text id="d31_4" x="1466.1" y="2059.1" font-size="37.5" stroke-width="1.5" letter-spacing="1.8" text-anchor="middle">0,1</text>
<text id="c0" x="323.5" y="731.0" font-size="40" stroke-width="1.5" text-anchor="middle" textLength="173.0" lengthAdjust="spacingAndGlyphs">0 (Евро 0)</text>
<text id="c1" x="327.0" y="1114.1" font-size="40" stroke-width="1.5" text-anchor="middle" textLength="172.0" lengthAdjust="spacingAndGlyphs">1 (Евро 1)</text>
<text id="c2" x="325.5" y="1499.6" font-size="40" stroke-width="1.5" text-anchor="middle" textLength="175.0" lengthAdjust="spacingAndGlyphs">2 (Евро 2)</text>
<text id="c3a" x="320.5" y="1862.9" font-size="40" stroke-width="1.5" text-anchor="middle" textLength="159.7" lengthAdjust="spacingAndGlyphs">3 (Евро 3</text>
<text id="c3b" x="320.0" y="1907.3" font-size="40" stroke-width="1.5" text-anchor="middle" textLength="141.1" lengthAdjust="spacingAndGlyphs">и выше)</text>
<text id="fb0" x="530.5" y="604.6" font-size="40" stroke-width="1.5" text-anchor="middle" textLength="24.2" lengthAdjust="spacingAndGlyphs">Б</text>
<text id="fs0" x="527.6" y="742.4" font-size="40" stroke-width="1.5" text-anchor="middle" textLength="83.8" lengthAdjust="spacingAndGlyphs">СНГ</text>
<text id="fd0" x="526.9" y="866.3" font-size="40" stroke-width="1.5" text-anchor="middle" textLength="53.7" lengthAdjust="spacingAndGlyphs">ДТ</text>
<text id="fb1" x="529.6" y="987.6" font-size="40" stroke-width="1.5" text-anchor="middle" textLength="23.0" lengthAdjust="spacingAndGlyphs">Б</text>
<text id="fs1" x="525.6" y="1124.7" font-size="40" stroke-width="1.5" text-anchor="middle" textLength="83.8" lengthAdjust="spacingAndGlyphs">СНГ</text>
<text id="fd1" x="525.5" y="1253.0" font-size="40" stroke-width="1.5" text-anchor="middle" textLength="51.8" lengthAdjust="spacingAndGlyphs">ДТ</text>
<text id="fb2" x="527.3" y="1377.1" font-size="40" stroke-width="1.5" text-anchor="middle" textLength="24.1" lengthAdjust="spacingAndGlyphs">Б</text>
<text id="fs2" x="525.5" y="1514.4" font-size="40" stroke-width="1.5" text-anchor="middle" textLength="82.8" lengthAdjust="spacingAndGlyphs">СНГ</text>
<text id="fd2" x="523.1" y="1642.0" font-size="40" stroke-width="1.5" text-anchor="middle" textLength="51.7" lengthAdjust="spacingAndGlyphs">ДТ</text>
<text id="fb3" x="528.5" y="1758.1" font-size="40" stroke-width="1.5" text-anchor="middle" textLength="24.1" lengthAdjust="spacingAndGlyphs">Б</text>
<text id="fs3" x="524.4" y="1897.4" font-size="40" stroke-width="1.5" text-anchor="middle" textLength="81.8" lengthAdjust="spacingAndGlyphs">СНГ</text>
<text id="fd3" x="525.5" y="2024.4" font-size="40" stroke-width="1.5" text-anchor="middle" textLength="51.8" lengthAdjust="spacingAndGlyphs">ДТ</text>
</g>
</svg>
</body></html>
